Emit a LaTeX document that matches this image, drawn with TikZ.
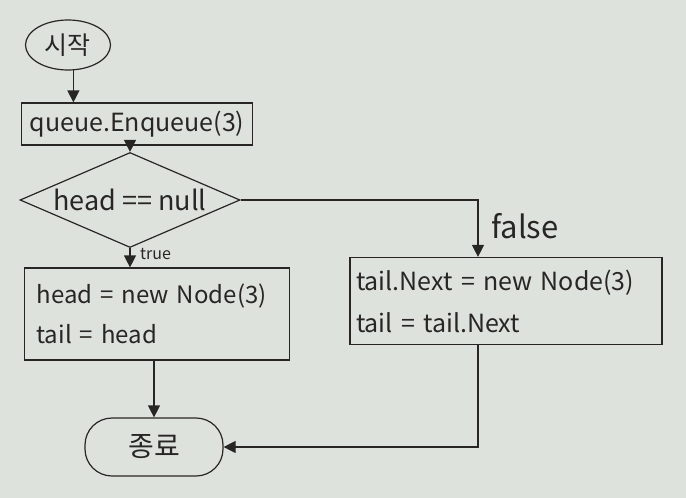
\documentclass[tikz,border=0pt]{standalone}
\usepackage{fontspec}
\setmainfont{Noto Sans CJK KR}
\usetikzlibrary{arrows.meta,shapes.geometric,calc}
\definecolor{paper}{RGB}{222,226,221}
\definecolor{ink}{RGB}{40,38,36}
\tikzset{
  base/.style={draw=ink, line width=1.2pt, text=ink, font=\fontsize{19}{24}\selectfont},
  terminal/.style={base, ellipse, inner sep=0pt},
  stadium/.style={base, rectangle, rounded corners=27pt, inner sep=0pt},
  procbox/.style={base, rectangle, inner sep=0pt},
  textbox/.style={base, rectangle, align=left, inner ysep=0pt},
  decision/.style={base, diamond, inner sep=0pt, aspect=2.3},
  arr/.style={draw=ink, line width=1.2pt, -{Triangle[length=12pt,width=12pt]}},
  lbl/.style={text=ink, inner sep=1pt}
}
\begin{document}
\begin{tikzpicture}[x=1pt,y=-1pt]
\fill[paper] (0,0) rectangle (686,498);
\useasboundingbox (0,0) rectangle (686,498);
\node[terminal, minimum width=85pt, minimum height=50pt, font=\fontsize{25}{30}\selectfont] (start) at (68,45) {시작};
\node[procbox, minimum width=231pt, minimum height=42pt, font=\fontsize{25}{30}\selectfont] (enq) at (137,124) {queue.Enqueue(3)};
\node[decision, minimum width=220pt, minimum height=95pt] (dia) at (130,200) {};
\node[lbl, font=\fontsize{27}{32}\selectfont] at (dia.center) {head == null};
\node[textbox, minimum width=265pt, minimum height=92pt, inner xsep=12pt, text width=241pt, font=\fontsize{24}{40}\selectfont] (lbox) at (157,314) {head = new Node(3)\\tail = head};
\node[textbox, minimum width=312pt, minimum height=87pt, inner xsep=6pt, text width=300pt, font=\fontsize{25}{42}\selectfont] (rbox) at (506,301) {tail.Next = new Node(3)\\tail = tail.Next};
\node[stadium, minimum width=138pt, minimum height=58pt, font=\fontsize{28}{32}\selectfont] (end) at (154,447) {종료};
\coordinate (col) at (478,182);

\draw[arr] (start.-78) -- (start.-78 |- enq.north);
\draw[arr] (dia.north |- enq.south) -- (dia.north);
\draw[arr] (dia.south) -- (dia.south |- lbox.north);
\node[lbl, anchor=west, font=\fontsize{16}{18}\selectfont] (tl) at (139,254) {true};
\draw[arr] (dia.east) -| (rbox.north -| col);
\node[lbl, anchor=west, font=\fontsize{31}{34}\selectfont] (fl) at ($(col)+(12,44)$) {false};
\draw[arr] (end.north |- lbox.south) -- (end.north);
\draw[arr] (rbox.south -| col) |- (end.east);
\end{tikzpicture}
\end{document}
